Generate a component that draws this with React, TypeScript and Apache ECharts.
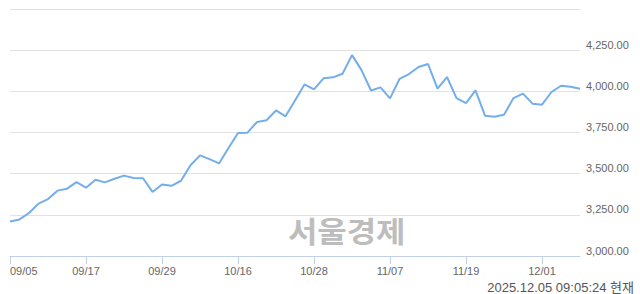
import React, { useEffect, useRef } from "react";
import * as echarts from "echarts";

const dates = [
  "09/05", "09/08", "09/09", "09/10", "09/11", "09/12", "09/15", "09/16", "09/17", "09/18",
  "09/19", "09/22", "09/23", "09/24", "09/25", "09/26", "09/29", "09/30", "10/01", "10/02",
  "10/10", "10/13", "10/14", "10/15", "10/16", "10/17", "10/20", "10/21", "10/22", "10/23",
  "10/24", "10/27", "10/28", "10/29", "10/30", "10/31", "11/03", "11/04", "11/05", "11/06",
  "11/07", "11/10", "11/11", "11/12", "11/13", "11/14", "11/17", "11/18", "11/19", "11/20",
  "11/21", "11/24", "11/25", "11/26", "11/27", "11/28", "12/01", "12/02", "12/03", "12/04",
  "12/05",
];

const values = [
  3210, 3222, 3261, 3318, 3346, 3397, 3409, 3449, 3415, 3463,
  3447, 3469, 3488, 3474, 3472, 3389, 3434, 3426, 3457, 3551,
  3611, 3588, 3562, 3656, 3747, 3749, 3814, 3824, 3884, 3848,
  3945, 4042, 4012, 4079, 4085, 4107, 4220, 4129, 4005, 4024,
  3957, 4075, 4105, 4148, 4166, 4016, 4087, 3959, 3928, 4006,
  3852, 3846, 3858, 3959, 3986, 3925, 3919, 3996, 4034, 4028,
  4016,
];

const yMin = 3000;
const yMax = 4500;
const yStep = 250;
const watermark = "서울경제";
const timestamp = "2025.12.05 09:05:24 현재";

export default function App() {
  const ref = useRef<HTMLDivElement>(null);
  useEffect(() => {
    if (!ref.current) return;
    const chart = echarts.init(ref.current, undefined, { renderer: "svg" });
    chart.setOption({
      animation: false,
      backgroundColor: "#ffffff",
      grid: { left: 10, right: 60, top: 9, bottom: 38, containLabel: false },
      xAxis: {
        type: "category",
        data: dates,
        boundaryGap: false,
        axisLine: { show: true, lineStyle: { color: "#c3d1e6", width: 1 } },
        axisTick: { show: true, interval: 7, length: 8, lineStyle: { color: "#c3d1e6" } },
        axisLabel: {
          interval: 7,
          margin: 9,
          color: "#666666",
          fontSize: 11,
          fontFamily: "Liberation Sans, Arial, sans-serif",
          alignMinLabel: "left",
        },
        splitLine: { show: false },
      },
      yAxis: {
        type: "value",
        position: "right",
        min: yMin,
        max: yMax,
        interval: yStep,
        axisLine: { show: false },
        axisTick: { show: false },
        splitLine: { show: true, lineStyle: { color: "#e2e2e2", width: 1 } },
        axisLabel: {
          showMaxLabel: false,
          margin: 6,
          color: "#666666",
          fontSize: 11,
          fontFamily: "Liberation Sans, Arial, sans-serif",
          verticalAlign: "bottom",
          formatter: (v: number) =>
            v.toLocaleString("en-US", { minimumFractionDigits: 2, maximumFractionDigits: 2 }),
        },
      },
      series: [
        {
          type: "line",
          data: values,
          showSymbol: false,
          symbol: "none",
          lineStyle: { color: "#74aeea", width: 2 },
          z: 3,
        },
      ],
      graphic: [
        {
          type: "text",
          x: 288,
          y: 231,
          scaleX: 1.1,
          z: 1,
          style: {
            text: watermark,
            fontSize: 29,
            fontWeight: "bold",
            fontFamily: "Noto Sans CJK KR, sans-serif",
            fill: "#bdbdbd",
            verticalAlign: "middle",
            align: "left",
          },
        },
        {
          type: "text",
          x: 634,
          y: 287,
          style: {
            text: timestamp,
            fontSize: 13,
            fontFamily: "Liberation Sans, Noto Sans CJK KR, sans-serif",
            fill: "#555555",
            align: "right",
            verticalAlign: "middle",
          },
        },
      ],
    });
    return () => chart.dispose();
  }, []);
  return (
    <div
      ref={ref}
      style={{ position: "absolute", left: 0, top: 0, width: 640, height: 294 }}
    />
  );
}
